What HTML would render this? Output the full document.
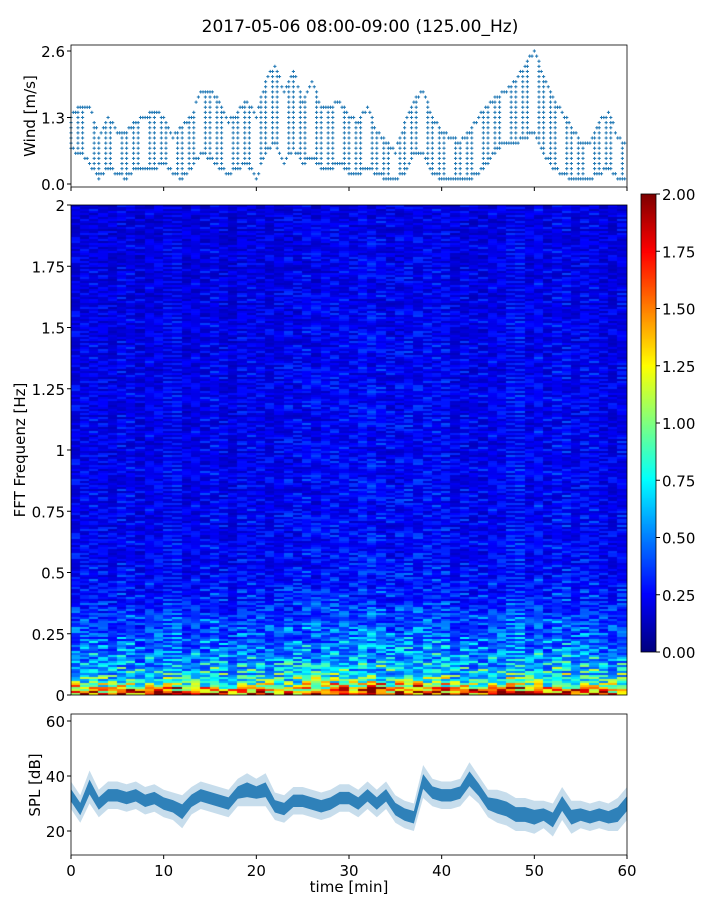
<!DOCTYPE html>
<html><head><meta charset="utf-8">
<style>
body{margin:0;background:#fff;font-family:"Liberation Sans","DejaVu Sans",sans-serif;}
svg text{font-family:"DejaVu Sans","Liberation Sans",sans-serif;fill:#000;}
#wrap{position:relative;width:720px;height:900px;}
canvas{position:absolute;}
</style></head>
<body>
<div id="wrap">
<canvas id="spec" width="556" height="490" style="left:71px;top:205px"></canvas>
<canvas id="cbar" width="15" height="458" style="left:641px;top:194px"></canvas>
<svg id="svg" width="720" height="900" style="position:absolute;left:0;top:0"></svg>
</div>
<script>
// ---- data ----
const minutes = Array.from({length:61},(_,i)=>i);
const windMin = [0.7,0.6,0.4,0.1,0.3,0.2,0.1,0.3,0.3,0.3,0.4,0.2,0.1,0.3,0.6,0.5,0.3,0.2,0.3,0.4,0.1,0.6,0.8,0.4,0.7,0.4,0.5,0.3,0.3,0.4,0.2,0.2,0.3,0.2,0.1,0.1,0.2,0.6,0.6,0.2,0.1,0.1,0.1,0.1,0.2,0.4,0.7,0.8,0.8,0.9,1.0,0.6,0.3,0.2,0.1,0.1,0.1,0.2,0.3,0.1,0.1];
const windMax = [1.3,1.5,1.5,0.9,1.3,1.0,1.0,1.2,1.3,1.4,1.3,0.9,1.1,1.3,1.8,1.8,1.6,1.2,1.4,1.6,1.3,2.0,2.3,1.8,2.2,1.6,2.0,1.5,1.5,1.6,1.3,1.2,1.5,1.0,0.8,0.6,1.2,1.6,1.8,1.3,1.0,0.9,0.8,1.0,1.3,1.5,1.7,1.8,2.0,2.3,2.6,2.1,1.7,1.4,1.1,0.8,0.8,1.2,1.4,0.9,0.7];
const splMean = [33,28,36,30,33,33,32,33,31,32,30,29,27,31,33,32,31,30,34,35,34,35,29,28,31,31,30,29,30,32,32,30,33,30,33,28,26,25,38,34,33,33,34,39,35,30,29,28,26,26,25,26,24,30,25,26,25,26,25,26,30];
const splSpread = [5,5,6,5,5,5,5,5,5,5,5,5,6,5,5,5,5,5,5,6,5,6,5,5,5,5,5,5,5,5,5,5,5,5,5,5,5,5,6,5,5,5,5,6,5,5,6,6,6,6,6,5,6,6,6,5,5,5,5,6,6];
const freqs = [0,0.025,0.05,0.075,0.1,0.15,0.2,0.25,0.3,0.35,0.4,0.5,0.6,0.8,1.0,1.25,1.5,1.75,2.0];
const freqPower = [2.0,1.4,0.95,0.8,0.68,0.58,0.5,0.45,0.4,0.36,0.32,0.28,0.26,0.25,0.24,0.24,0.23,0.22,0.21];
const timeGain = [1.0,1.05,1.0,0.9,0.95,1.0,1.0,0.9,0.95,1.0,0.95,1.0,0.9,0.95,1.0,1.05,0.95,0.9,0.95,1.0,1.05,1.0,0.95,1.0,1.05,1.1,1.05,1.0,1.1,1.1,1.05,1.1,1.15,1.1,1.05,1.0,1.1,1.15,1.2,1.1,1.05,1.0,1.0,0.95,1.0,1.0,1.05,1.05,1.1,1.0,1.1,1.0,1.1,1.1,1.05,1.0,1.05,1.0,0.95,1.0];
const texture = [0.55,1.3,0.8,1.05,0.65,1.5,0.9,0.7,1.2,0.6,1.0,1.4,0.75,0.95,0.5,1.25,0.85,1.1,0.7,1.6,0.9,0.6,1.15,0.8,1.35,0.65,1.0,0.75,1.2,0.9,0.55,1.05,0.8,0.6,1.3,0.95,0.7];
const cbarTicks = ["0.00","0.25","0.50","0.75","1.00","1.25","1.50","1.75","2.00"];
const specTicks = [0,0.25,0.5,0.75,1,1.25,1.5,1.75,2];
const specTickLabels = ["0","0.25","0.5","0.75","1","1.25","1.5","1.75","2"];
const xTicks = [0,10,20,30,40,50,60];
const windTicks = [0,1.3,2.6];
const windTickLabels = ["0.0","1.3","2.6"];
const splTicks = [20,40,60];

// ---- axes ----
const X0=71,X1=627;
const xs = t => X0 + (t/60)*(X1-X0);
const windY = v => 184 - (v/2.6)*133;
const specY = f => 695 - (f/2)*490;
const splY = v => 776 - (v-40)*2.75;

function jet(v){
  const r=Math.min(Math.max(Math.min(4*v-1.5,-4*v+4.5),0),1);
  const g=Math.min(Math.max(Math.min(4*v-0.5,-4*v+3.5),0),1);
  const b=Math.min(Math.max(Math.min(4*v+0.5,-4*v+2.5),0),1);
  return `rgb(${r*255|0},${g*255|0},${b*255|0})`;
}
function interp(xa,ya,x){
  for(let i=1;i<xa.length;i++){ if(x<=xa[i]){const t=(x-xa[i-1])/(xa[i]-xa[i-1]);return ya[i-1]+t*(ya[i]-ya[i-1]);} }
  return ya[ya.length-1];
}
const sc=document.getElementById('spec').getContext('2d');
const rowH=2, nRows=245, nCols=timeGain.length, colW=(X1-X0)/nCols;
const L=texture.length;
for(let c=0;c<nCols;c++){
  for(let r=0;r<nRows;r++){
    const f=(r+0.5)/nRows*2;
    const idx=((r*r*3+c*17+r*c*5+c*c*7)%L+L)%L;
    let v=interp(freqs,freqPower,f)*timeGain[c]*texture[idx];
    sc.fillStyle=jet(Math.min(v/2,1));
    sc.fillRect(Math.floor(c*colW),490-(r+1)*rowH,Math.ceil(colW)+1,rowH);
  }
}
const cc=document.getElementById('cbar').getContext('2d');
for(let y=0;y<458;y++){cc.fillStyle=jet(1-y/457);cc.fillRect(0,y,15,1);}

const svg=document.getElementById('svg');
const NS='http://www.w3.org/2000/svg';
function mk(tag,attrs,name,parent){
  const e=document.createElementNS(NS,tag);
  for(const k in attrs)e.setAttribute(k,attrs[k]);
  
  
  (parent||svg).appendChild(e);return e;
}
function txt(x,y,s,anchor,size,name,rot){
  const t=mk('text',{x:x,y:y,'text-anchor':anchor,'font-size':size},name);
  if(rot)t.setAttribute('transform',`rotate(-90 ${x} ${y})`);
  t.textContent=s;return t;
}
txt(360,32,"2017-05-06 08:00-09:00 (125.00_Hz)","middle",17,"chart-title");

const wg=mk('g',{},'wind-points');
for(let m=0;m<60;m++){
  for(let k=0;k<4;k++){
    const t=m+k*0.25;
    const lo=windMin[m]+(windMin[m+1]-windMin[m])*k/4, hi=windMax[m]+(windMax[m+1]-windMax[m])*k/4;
    const l0=Math.round(lo*10), l1=Math.round(hi*10);
    for(let lv=l0;lv<=l1;lv++){
      if(lv!==l0 && lv!==l1 && ((lv*3+k*5+m)%3)!==0) continue;
      const x=xs(t),y=windY(lv/10);
      mk('path',{d:`M${x-1.6},${y}h3.2M${x},${y-1.6}v3.2`,stroke:'#1f77b4','stroke-width':1},'wind-point',wg);
    }
  }
}
mk('rect',{x:X0,y:45,width:X1-X0,height:142,fill:'none',stroke:'#000','stroke-width':0.8},'wind-axes-frame');
windTicks.forEach((v,i)=>{mk('line',{x1:X0-4,x2:X0,y1:windY(v),y2:windY(v),stroke:'#000'},'wind-y-tick');txt(X0-6,windY(v)+6,windTickLabels[i],"end",15,"wind-y-tick-label");});
xTicks.forEach(v=>mk('line',{x1:xs(v),x2:xs(v),y1:187,y2:191,stroke:'#000'},'wind-x-tick'));
txt(35,116,"Wind [m/s]","middle",15,"wind-y-axis-title",true);

mk('rect',{x:X0,y:205,width:X1-X0,height:490,fill:'none',stroke:'#000','stroke-width':0.8},'spectrogram-frame');
specTicks.forEach((v,i)=>{mk('line',{x1:X0-4,x2:X0,y1:specY(v),y2:specY(v),stroke:'#000'},'spectrogram-y-tick');txt(X0-6,specY(v)+6,specTickLabels[i],"end",15,"spectrogram-y-tick-label");});
txt(25,450,"FFT Frequenz [Hz]","middle",15,"spectrogram-y-axis-title",true);

mk('rect',{x:641,y:194,width:15,height:458,fill:'none',stroke:'#000','stroke-width':0.8},'colorbar-frame');
cbarTicks.forEach((s,i)=>{const y=652-i*458/8;mk('line',{x1:656,x2:660,y1:y,y2:y,stroke:'#000'},'colorbar-tick');txt(662,y+6,s,"start",15,"colorbar-tick-label");});

const up=[],dn=[],iu=[],id=[];
minutes.forEach(m=>{up.push(`${xs(m)},${splY(splMean[m]+splSpread[m])}`);dn.unshift(`${xs(m)},${splY(splMean[m]-splSpread[m])}`);
  iu.push(`${xs(m)},${splY(splMean[m]+splSpread[m]*0.45)}`);id.unshift(`${xs(m)},${splY(splMean[m]-splSpread[m]*0.45)}`);});
mk('polygon',{points:up.concat(dn).join(' '),fill:'#1f77b4','fill-opacity':0.25},'spl-outer-band');
mk('polygon',{points:iu.concat(id).join(' '),fill:'#1f77b4','fill-opacity':0.9},'spl-line');
mk('rect',{x:X0,y:714,width:X1-X0,height:141,fill:'none',stroke:'#000','stroke-width':0.8},'spl-axes-frame');
splTicks.forEach(v=>{mk('line',{x1:X0-4,x2:X0,y1:splY(v),y2:splY(v),stroke:'#000'},'spl-y-tick');txt(X0-6,splY(v)+6,String(v),"end",15,"spl-y-tick-label");});
xTicks.forEach(v=>{mk('line',{x1:xs(v),x2:xs(v),y1:855,y2:859,stroke:'#000'},'x-tick');txt(xs(v),876,String(v),"middle",15,"x-tick-label");});
txt(349,892,"time [min]","middle",15,"x-axis-title");
txt(40,785,"SPL [dB]","middle",15,"spl-y-axis-title",true);
</script>
</body></html>
